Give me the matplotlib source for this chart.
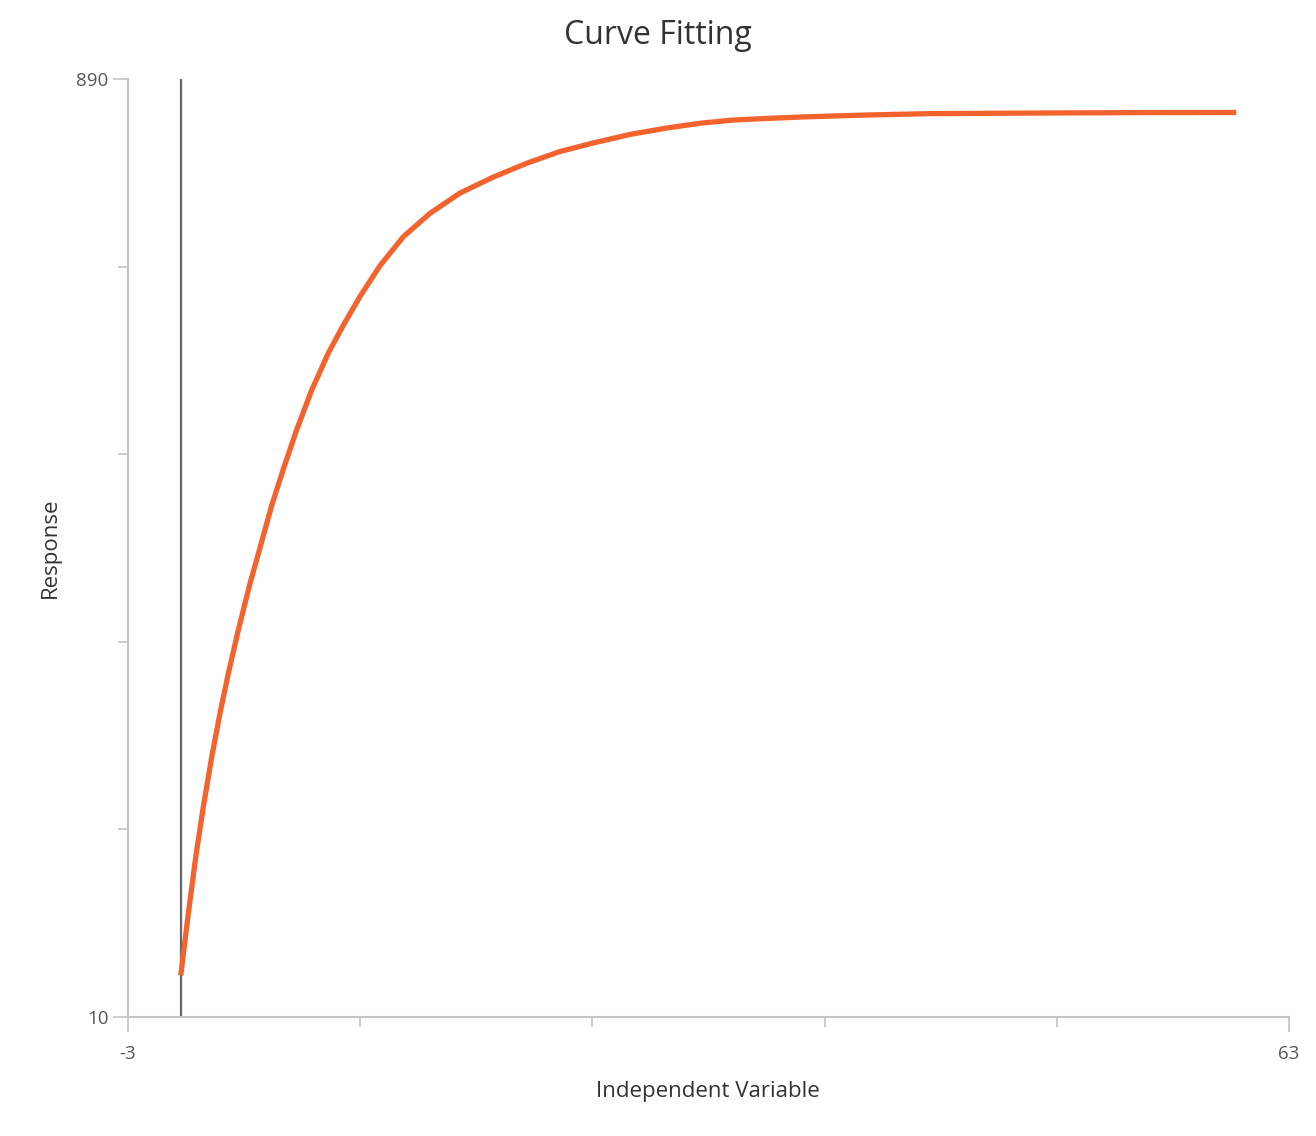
import matplotlib
matplotlib.use('Agg')
import matplotlib.pyplot as plt

# values
x_vals = [0, 0.43, 0.85, 1.28, 1.76, 2.23, 2.70, 3.27, 3.94, 4.50, 5.17,
          5.83, 6.59, 7.44, 8.39, 9.24, 10.19, 11.33, 12.65, 14.17, 15.87,
          17.77, 19.67, 21.56, 23.45, 25.54, 27.62, 29.52, 31.41, 33.31,
          35.20, 37.09, 38.99, 40.89, 42.59, 48.0, 54.6, 60]
y_vals = [49, 107, 160, 207, 254, 295, 332, 373, 417, 450, 490,
          524, 561, 598, 633, 659, 686, 715, 742, 764, 783,
          798, 811, 822, 830, 838, 844, 848.5, 851.5, 853,
          854.3, 855.3, 856.2, 856.9, 857.5, 858, 858.5, 858.6]

x_min, x_max = -3, 63
y_min, y_max = 10, 890
x_inner = [10.2, 23.4, 36.6, 49.8]
y_inner = [186, 362, 538, 714]
x_marker = 0

title = 'Curve Fitting'
x_label = 'Independent Variable'
y_label = 'Response'

plt.rcParams['font.family'] = ['Open Sans', 'DejaVu Sans']

fig = plt.figure(figsize=(13.16, 11.36), dpi=100)
ax = fig.add_axes([128 / 1316, 1 - 1017 / 1136, (1289 - 128) / 1316, (1017 - 79) / 1136])

ax.axvline(x_marker, color='#666666', lw=1.6, zorder=2)
ax.plot(x_vals, y_vals, color='#f4632e', lw=3.8, solid_capstyle='butt',
        solid_joinstyle='round', zorder=3)

ax.set_xlim(x_min, x_max)
ax.set_ylim(y_min, y_max)

for s in ['top', 'right']:
    ax.spines[s].set_visible(False)
for s in ['left', 'bottom']:
    ax.spines[s].set_color('#c4c4c4')
    ax.spines[s].set_linewidth(1.5)

ax.set_xticks([x_min, x_max])
ax.set_xticklabels([str(x_min), str(x_max)])
ax.set_yticks([y_min, y_max])
ax.set_yticklabels([str(y_min), str(y_max)])
ax.set_xticks(x_inner, minor=True)
ax.set_yticks(y_inner, minor=True)

ax.tick_params(axis='both', which='major', length=11, width=1.2, color='#c4c4c4',
               labelsize=13.5, labelcolor='#555555')
ax.tick_params(axis='both', which='minor', length=7.5, width=1.2, color='#c4c4c4')
ax.tick_params(axis='x', which='major', pad=9)
ax.tick_params(axis='y', which='major', pad=3)

fig.text(658 / 1316, 1 - 36 / 1136, title, ha='center', va='center', fontsize=23, color='#333333')
fig.text(708 / 1316, 1 - 1092 / 1136, x_label, ha='center', va='center', fontsize=16, color='#333333')
fig.text(50 / 1316, 1 - 548 / 1136, y_label, ha='center', va='center', rotation=90,
         fontsize=16, color='#333333')

fig.savefig('out.png', dpi=100)
